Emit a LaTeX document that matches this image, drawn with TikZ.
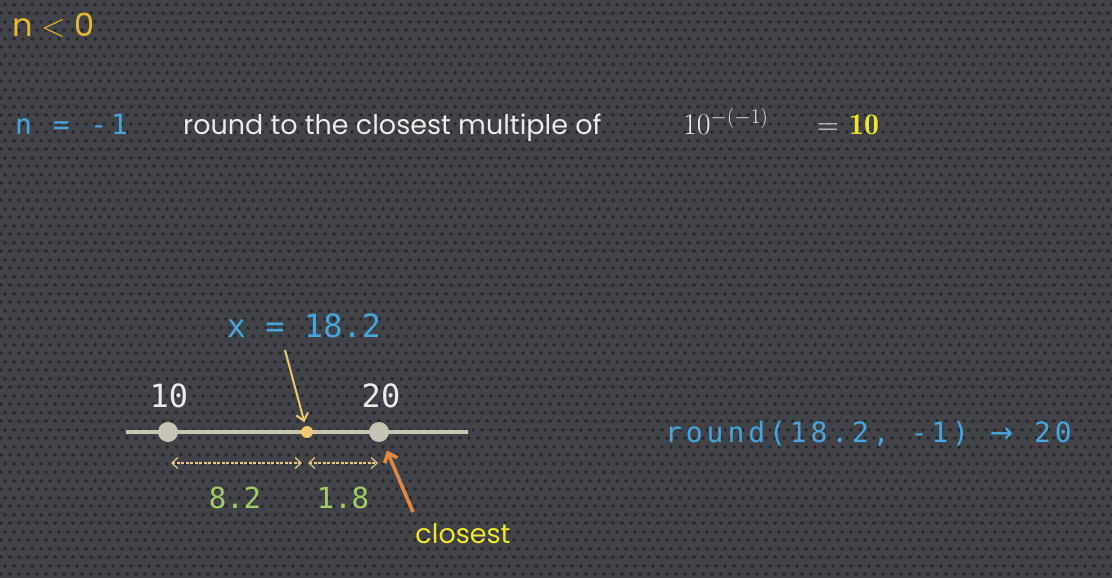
\RequirePackage{fix-cm}
\documentclass[tikz,border=0pt]{standalone}
\usepackage{fontspec}
\usetikzlibrary{arrows.meta,patterns.meta}
\newfontfamily\slidefont{Poppins}
\newfontfamily\codefont{DejaVu Sans Mono}
\newfontfamily\codewide{DejaVu Sans Mono}[LetterSpace=14]
\newfontfamily\arrowfont{DejaVu Sans}
\definecolor{slidebg}{RGB}{66,67,72}
\definecolor{dotdark}{RGB}{36,37,40}
\definecolor{gold}{RGB}{232,184,48}
\definecolor{codeblue}{RGB}{70,165,220}
\definecolor{softwhite}{RGB}{235,235,235}
\definecolor{hiyellow}{RGB}{240,232,40}
\definecolor{numgreen}{RGB}{160,205,100}
\definecolor{axisgray}{RGB}{200,198,178}
\definecolor{tickgray}{RGB}{197,195,180}
\definecolor{pointgold}{RGB}{240,200,110}
\definecolor{dimtan}{RGB}{232,200,130}
\definecolor{pointorange}{RGB}{225,135,65}
\tikzdeclarepattern{name=slidedots, type=uncolored,
  bounding box={(0,0) and (9pt,17pt)}, tile size={(9pt,17pt)},
  code={\fill (2.25pt,4.25pt) circle (2pt); \fill (6.75pt,12.75pt) circle (2pt);}}
\begin{document}
\begin{tikzpicture}[x=1pt,y=-1pt]
\tikzstyle{every node}+=[inner sep=0pt]
\tikzstyle{slide}=[font=\slidefont\fontsize{27}{32}\selectfont]
\tikzstyle{maths}=[font=\fontsize{30}{34}\selectfont]
\tikzstyle{code}=[font=\codefont\fontsize{32}{36}\selectfont]
\tikzstyle{codelong}=[font=\codewide\fontsize{28}{32}\selectfont, text=codeblue]
\tikzstyle{tick}=[circle, fill=tickgray, minimum size=20pt]
\tikzstyle{dim}=[dimtan, line width=1.2pt, dashed, dash pattern=on 3pt off 1.5pt, {Straight Barb[length=6pt,width=11pt]}-{Straight Barb[length=6pt,width=11pt]}]
\fill [slidebg] (0,0) rectangle (1112,578);
\fill [pattern=slidedots, pattern color=dotdark] (0,0) rectangle (1112,578);
% heading lines
\node [anchor=base west, text=gold, font=\slidefont\fontsize{32}{36}\selectfont] (cond) at (12,37) {n $<$ 0};
\node [codelong, anchor=base west] (nval) at (15,134) {n = -1};
\node [slide, anchor=base west, text=softwhite] (rule) at (183,134) {round to the closest multiple of};
\node [maths, anchor=base west, text=softwhite] (pow) at (683,134) {$10^{-(-1)}$};
\node [maths, anchor=base west, text=softwhite] (eq) at (817,134) {$=$};
\node [maths, anchor=base west, text=hiyellow] (ten) at (849,134) {$\mathbf{10}$};
% number line
\coordinate (lineL) at (126,432);
\coordinate (lineR) at (468,432);
\draw [axisgray, line width=3.5pt] (lineL) -- (lineR);
\node [tick] (p10) at (168,432) {};
\node [tick] (p20) at (379,432) {};
\node [circle, fill=pointgold, minimum size=12pt] (px) at (307,432) {};
\node [code, anchor=base, text=softwhite] (l10) at (169,407) {10};
\node [code, anchor=base, text=softwhite] (l20) at (381,407) {20};
\node [code, anchor=base, text=codeblue] (xlab) at (304,337) {x = 18.2};
\coordinate (xtail) at (285,350);
\draw [pointgold, line width=2pt, -{Straight Barb[length=7pt,width=12pt]}, shorten >=4pt] (xtail) -- (px);
% distances
\coordinate (d10) at (171,463);
\coordinate (dx1) at (302,463);
\coordinate (dx2) at (308,463);
\coordinate (d20) at (378,463);
\draw [dim] (d10) -- (dx1);
\draw [dim] (dx2) -- (d20);
\node [code, anchor=base, text=numgreen, font=\codefont\fontsize{29}{32}\selectfont] (dist1) at (235,508) {8.2};
\node [code, anchor=base, text=numgreen, font=\codefont\fontsize{29}{32}\selectfont] (dist2) at (343,508) {1.8};
\coordinate (otail) at (413,512);
\draw [pointorange, line width=3.5pt, -{Straight Barb[length=8pt,width=14pt]}, shorten >=10pt] (otail) -- (p20);
\node [slide, anchor=base, text=hiyellow] (near) at (463,543) {closest};
% result
\node [codelong, anchor=base west] (res) at (665,442) {round(18.2, -1) {\arrowfont→} 20};
\end{tikzpicture}
\end{document}
